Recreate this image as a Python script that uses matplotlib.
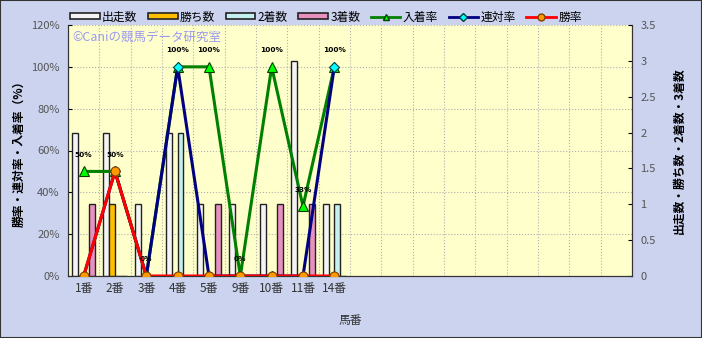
import numpy as np
import matplotlib
matplotlib.use("Agg")
import matplotlib.pyplot as plt
from matplotlib.patches import Patch, Rectangle
from matplotlib.lines import Line2D

plt.rcParams['font.family'] = ['Noto Sans CJK JP', 'DejaVu Sans']

# data
horses = ['1番', '2番', '3番', '4番', '5番', '9番', '10番', '11番', '14番']
n_slots = 18
starts = [2, 2, 1, 2, 1, 1, 1, 3, 1]      # 出走数
wins = [0, 1, 0, 0, 0, 0, 0, 0, 0]        # 勝ち数
seconds = [0, 0, 0, 2, 0, 0, 0, 0, 1]     # 2着数
thirds = [1, 0, 0, 0, 1, 0, 1, 1, 0]      # 3着数
place_rate = [50, 50, 0, 100, 100, 0, 100, 33.3, 100]   # 入着率
quinella_rate = [0, 50, 0, 100, 0, 0, 0, 0, 100]        # 連対率
win_rate = [0, 50, 0, 0, 0, 0, 0, 0, 0]                 # 勝率
place_labels = ['50%', '50%', '0%', '100%', '100%', '0%', '100%', '33%', '100%']

bg = '#cbd3ef'
fig = plt.figure(figsize=(7.02, 3.38), dpi=100, facecolor=bg)
fig.patches.append(Rectangle((0, 0), 1, 1, transform=fig.transFigure,
                             fill=False, edgecolor='#333333', lw=1.5))

ax = fig.add_axes([68/702, 62/338, 564/702, 251/338])
ax.set_facecolor('#ffffcc')
ax2 = ax.twinx()
ax3 = ax.twinx()

x = np.arange(len(horses))
w = 0.186
bar_sets = [(starts, '#f4f4f4', '出走数'), (wins, '#ffc000', '勝ち数'),
            (seconds, '#c4f0f0', '2着数'), (thirds, '#e890c0', '3着数')]
for k, (vals, col, lab) in enumerate(bar_sets):
    ax2.bar(x + (k - 1.5) * w, vals, width=w, color=col, edgecolor='#222222',
            linewidth=1.0, label=lab)

ax3.plot(x, place_rate, color='#008000', lw=2.2, marker='^', ms=7,
         mfc='#00ff00', mec='#004000', mew=0.8)
ax3.plot(x, quinella_rate, color='#000080', lw=2.2, marker='D', ms=5,
         mfc='#00ffff', mec='#004040', mew=0.8)
ax3.plot(x, win_rate, color='#ff0000', lw=2.2, marker='o', ms=6.5,
         mfc='#ff9900', mec='#804000', mew=0.8)
for xi, v, t in zip(x, place_rate, place_labels):
    ax3.annotate(t, (xi, v), xytext=(0, 12), textcoords='offset points',
                 ha='center', va='center', fontsize=5.3, fontweight='bold',
                 family=['DejaVu Sans'])

for a in (ax, ax2, ax3):
    a.set_xlim(-0.5, n_slots - 0.5)
ax.set_ylim(0, 120)
ax3.set_ylim(0, 120)
ax2.set_ylim(0, 3.5)
ax3.set_axis_off()

ax.set_yticks(np.arange(0, 121, 20))
ax.set_yticklabels([f'{v}%' for v in range(0, 121, 20)])
ax2.set_yticks(np.arange(0, 3.51, 0.5))
ax2.set_yticklabels(['0', '0.5', '1', '1.5', '2', '2.5', '3', '3.5'])
ax.set_xticks(x)
ax.set_xticklabels(horses)
ax.set_xticks(np.arange(-0.5, n_slots, 1), minor=True)
ax.tick_params(axis='x', which='both', length=0, labelsize=8.5,
               labelcolor='#333333', pad=4)
ax.tick_params(axis='y', direction='in', length=3, labelsize=8,
               labelcolor='#555555', pad=6)
ax2.tick_params(axis='y', direction='in', length=3, labelsize=8,
                labelcolor='#555555', pad=6)
ax.grid(True, axis='y', color='#b0b0b0', ls=':', lw=0.8)
ax.grid(True, axis='x', which='minor', color='#b0b0b0', ls=':', lw=0.8)
for a in (ax, ax2):
    a.spines['top'].set_visible(False)
    for s in ('left', 'right', 'bottom'):
        a.spines[s].set_color('#333333')

ax.set_ylabel('勝率・連対率・入着率（%）', fontsize=8.5, fontweight='bold', labelpad=4)
ax2.set_ylabel('出走数・勝ち数・2着数・3着数', fontsize=8.5, fontweight='bold',
               labelpad=12)
ax.set_xlabel('馬番', fontsize=8.5, color='#333333', labelpad=14)

ax.text(0.008, 0.952, '©Caniの競馬データ研究室', transform=ax.transAxes,
        fontsize=9, color='#9a9af0', va='center', ha='left')

handles = [Patch(facecolor=c, edgecolor='#222222', lw=1.2, label=l) for _, c, l in bar_sets]
handles += [
    Line2D([], [], color='#008000', lw=2, marker='^', ms=5, mfc='#00ff00', mec='#004000', label='入着率'),
    Line2D([], [], color='#000080', lw=2, marker='D', ms=4, mfc='#00ffff', mec='#004040', label='連対率'),
    Line2D([], [], color='#ff0000', lw=2, marker='o', ms=5, mfc='#ff9900', mec='#804000', label='勝率'),
]
fig.legend(handles=handles, loc='center', bbox_to_anchor=(326/702, 1 - 17/338),
           ncol=7, frameon=False, fontsize=8.5, handlelength=2.5, handleheight=0.45,
           columnspacing=0.9, handletextpad=0.2)

fig.savefig('out.png', dpi=100, facecolor=bg)
